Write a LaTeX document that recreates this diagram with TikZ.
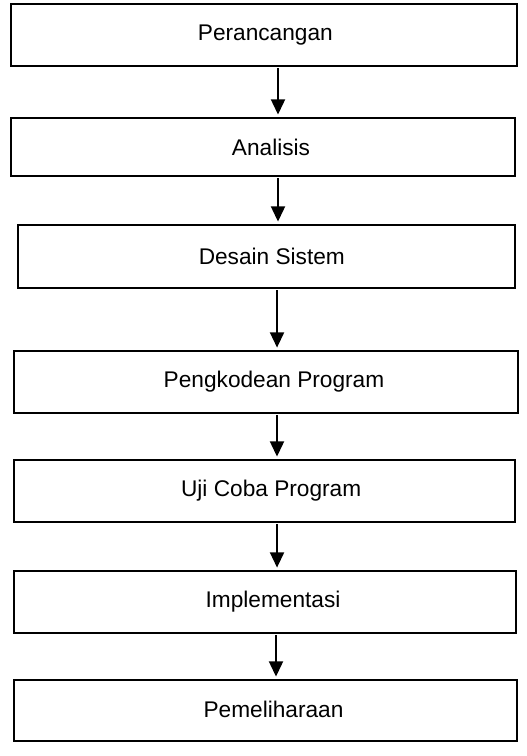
\documentclass[tikz,border=0pt]{standalone}
\usepackage{fontspec}
\setmainfont{Liberation Sans}
\usetikzlibrary{arrows.meta}
\begin{document}
\begin{tikzpicture}[x=0.75pt,y=-0.75pt,
  box/.style={draw=black, line width=1.1pt, inner sep=0pt, rectangle},
  lbl/.style={font=\fontsize{17}{20}\selectfont},
  arr/.style={line width=1.6pt, -{Triangle[width=10.5pt,length=11.5pt]}, shorten >=2pt}]
\useasboundingbox (0,0) rectangle (527,756);
\fill[white] (0,0) rectangle (527,756);
\node[box, minimum width=379.5pt, minimum height=46.5pt, label={[lbl,xshift=1pt]center:Perancangan}] (b1) at (264,35) {};
\node[box, minimum width=378pt, minimum height=43.5pt, label={[lbl,xshift=6pt]center:Analisis}] (b2) at (263,147) {};
\node[box, minimum width=372.75pt, minimum height=47.25pt, label={[lbl,xshift=4pt]center:Desain Sistem}] (b3) at (266.5,256.5) {};
\node[box, minimum width=378pt, minimum height=46.5pt, label={[lbl,xshift=6pt]center:Pengkodean Program}] (b4) at (266,382) {};
\node[box, minimum width=375.75pt, minimum height=46.5pt, label={[lbl,xshift=5pt]center:Uji Coba Program}] (b5) at (264.5,491) {};
\node[box, minimum width=376.5pt, minimum height=46.5pt, label={[lbl,xshift=6pt]center:Implementasi}] (b6) at (265,602) {};
\node[box, minimum width=377.25pt, minimum height=45.75pt, label={[lbl,xshift=6pt,yshift=1pt]center:Pemeliharaan}] (b7) at (265.5,710.5) {};
\draw[arr] ([xshift=10.5pt,yshift=-1pt]b1.south) -- ([xshift=10.5pt]b1.south |- b2.north);
\draw[arr] ([xshift=11.25pt,yshift=-1pt]b2.south) -- ([xshift=11.25pt]b2.south |- b3.north);
\draw[arr] ([xshift=7.9pt,yshift=-1pt]b3.south) -- ([xshift=7.9pt]b3.south |- b4.north);
\draw[arr] ([xshift=8.25pt,yshift=-1pt]b4.south) -- ([xshift=8.25pt]b4.south |- b5.north);
\draw[arr] ([xshift=9.4pt,yshift=-1pt]b5.south) -- ([xshift=9.4pt]b5.south |- b6.north);
\draw[arr] ([xshift=8.25pt,yshift=-1pt]b6.south) -- ([xshift=8.25pt]b6.south |- b7.north);
\end{tikzpicture}
\end{document}
